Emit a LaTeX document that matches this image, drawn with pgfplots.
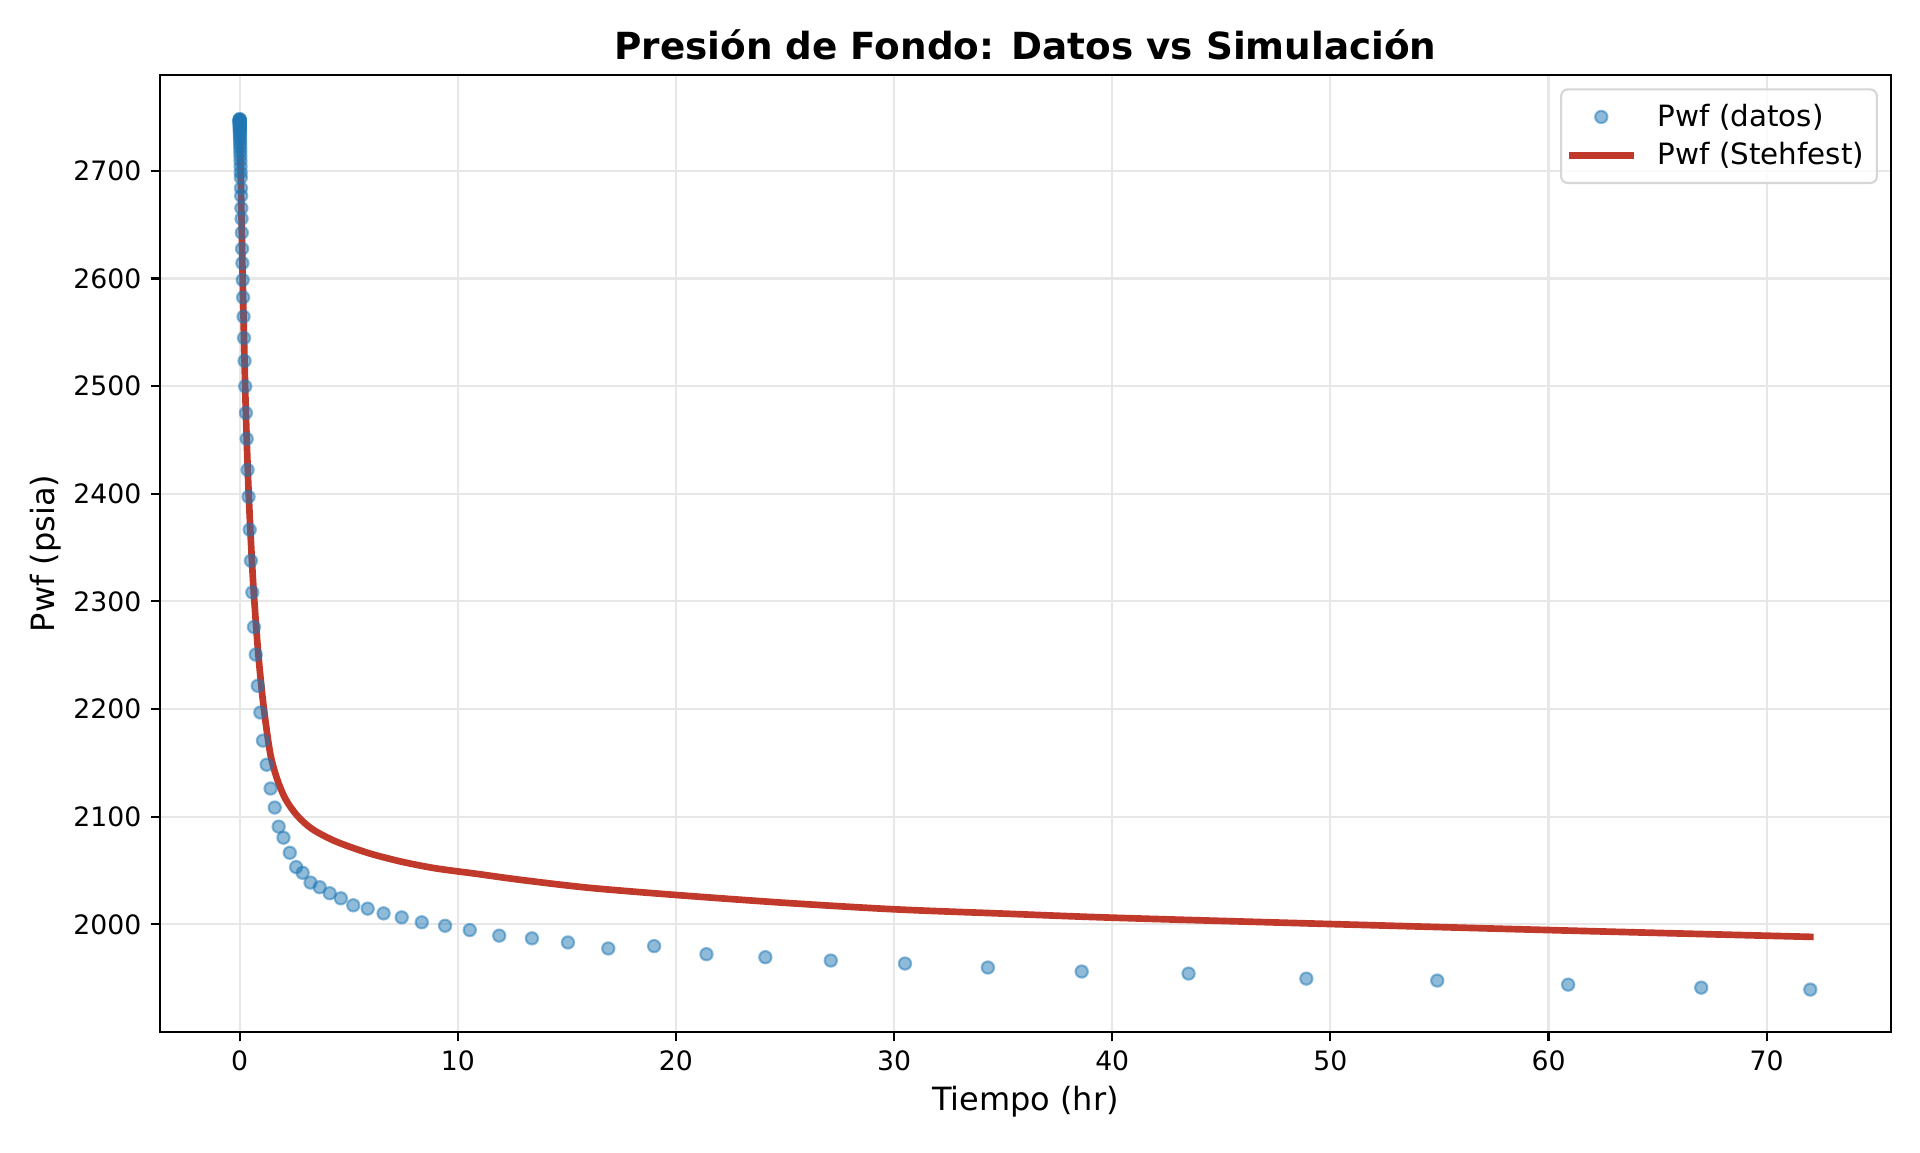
\documentclass[border=0pt]{standalone}
\usepackage{fontspec}
\setmainfont{DejaVu Sans}
\usepackage{pgfplots}
\pgfplotsset{compat=1.18}
\definecolor{tabblue}{HTML}{1F77B4}
\definecolor{redline}{HTML}{C0392B}
\definecolor{gridc}{RGB}{231,231,231}
\begin{document}
\begin{tikzpicture}
\begin{axis}[
  at={(0pt,0pt)}, anchor=south west,
  width=649.125pt, height=358.875pt, scale only axis,
  xmin=-3.65, xmax=75.7, ymin=1900, ymax=2789,
  xtick={0,10,...,70}, ytick={2000,2100,...,2700},
  tick align=outside, major tick length=3.5pt,
  tick style={black, line width=0.8pt},
  axis line style={line width=0.8pt},
  xtick pos=bottom, ytick pos=left,
  grid=major, grid style={gridc, line width=0.8pt},
  ticklabel style={font=\fontsize{10}{12}\selectfont},
  /pgf/number format/assume math mode=true,
  /pgf/number format/1000 sep={},
  legend style={at={(1,1)}, anchor=north east, xshift=-4.9pt, yshift=-5pt,
    draw=black!16, line width=0.8pt, rounded corners=2.5pt, fill=white, fill opacity=0.8, text opacity=1,
    font=\fontsize{11}{13}\selectfont, inner xsep=2.8pt, inner ysep=3.4pt,
    row sep=0.6pt, nodes={inner sep=2pt},
    /tikz/every odd column/.append style={column sep=7pt}},
  legend cell align=left,
  legend image code/.code={\draw[mark repeat=2,mark phase=2,#1] plot coordinates {(0pt,0pt) (11pt,0pt) (22pt,0pt)};},
]
\addplot[only marks, mark=*, mark size=2.3pt,
  mark options={fill=tabblue, draw=tabblue, line width=0.8pt, opacity=0.5}]
coordinates {
(0.0023,2748) (0.0026,2747.6) (0.0030,2747.2) (0.0033,2746.8) (0.0037,2746.3)
(0.0042,2745.8) (0.0047,2745.2) (0.0052,2744.6) (0.0059,2743.9) (0.0066,2743.1)
(0.0075,2742.2) (0.0084,2741.2) (0.0094,2740.1) (0.0106,2738.9) (0.0119,2737.5)
(0.0134,2736) (0.0151,2734.2) (0.0170,2732.2) (0.0192,2729.9) (0.0216,2727.4)
(0.0243,2724.5) (0.0273,2721.3) (0.0307,2717.7) (0.0345,2713.7) (0.0388,2709.2)
(0.0437,2704.1) (0.0492,2698.5)
(0.0553,2693.8) (0.0622,2683.9) (0.0700,2676.8) (0.0788,2665.4) (0.0886,2655.5)
(0.0997,2642.5) (0.112,2627.6) (0.126,2614.3) (0.142,2598.6) (0.160,2582.4)
(0.180,2564.5) (0.202,2544.7) (0.227,2523.4) (0.256,2499.8) (0.288,2475.1)
(0.324,2451.0) (0.364,2422.2) (0.410,2397.2) (0.461,2366.6) (0.518,2337.8)
(0.583,2308.4) (0.656,2276.2) (0.738,2250.6)
(0.83,2221.6) (0.95,2196.8) (1.07,2170.7) (1.24,2148.3) (1.42,2126.2)
(1.61,2108.5) (1.79,2090.8) (2.01,2080.5) (2.30,2066.5) (2.59,2053.2)
(2.89,2047.9) (3.25,2038.8) (3.67,2034.5) (4.13,2028.9) (4.64,2024.2)
(5.21,2017.7) (5.87,2014.6) (6.60,2010.2) (7.43,2006.5) (8.35,2001.9)
(9.42,1998.7) (10.55,1994.7) (11.9,1989.5) (13.4,1987.0) (15.05,1983.2)
(16.9,1977.6) (19.0,1979.8) (21.4,1972.3) (24.1,1969.5) (27.1,1966.4)
(30.5,1963.6) (34.3,1959.9) (38.6,1956.2) (43.5,1954.3) (48.9,1949.6)
(54.9,1947.8) (60.9,1944.0) (67.0,1941.2) (72.0,1939.4)
};
\addlegendentry{Pwf (datos)}
\addplot[redline, line width=2.5pt, line cap=rect, no marks, smooth, tension=0.5]
coordinates {
(0,2750) (0.01,2739.5) (0.02,2729) (0.04,2707) (0.06,2687) (0.08,2665)
(0.10,2643) (0.13,2610) (0.17,2573) (0.21,2537) (0.26,2494) (0.32,2453)
(0.41,2403) (0.52,2355) (0.64,2311) (0.82,2260) (1.01,2218.5) (1.19,2188)
(1.42,2157) (1.72,2135) (2.10,2116.5) (2.64,2101) (3.33,2088.5) (4.41,2077)
(5.94,2066) (7.47,2058) (9.0,2052) (10.84,2047) (12.9,2041.3)
(16,2034) (20,2027.3) (25,2020) (30,2014) (35,2010) (40,2006.2)
(50,2000.3) (60,1994.7) (72,1988.4)
};
\addlegendentry{Pwf (Stehfest)}
\end{axis}
\node[anchor=base, font=\fontsize{14}{17}\selectfont\bfseries, inner sep=0pt] at (324.56pt,364.8pt) {Presión de Fondo: Datos vs Simulación};
\node[anchor=center, font=\fontsize{12}{14}\selectfont, inner sep=0pt] at (324.56pt,-26.25pt) {Tiempo (hr)};
\node[anchor=center, rotate=90, font=\fontsize{12}{14}\selectfont, inner sep=0pt] at (-43pt,179.44pt) {Pwf (psia)};
\pgfresetboundingbox
\path[use as bounding box] (-60pt,-45pt) rectangle (660pt,387pt);
\end{tikzpicture}
\end{document}
